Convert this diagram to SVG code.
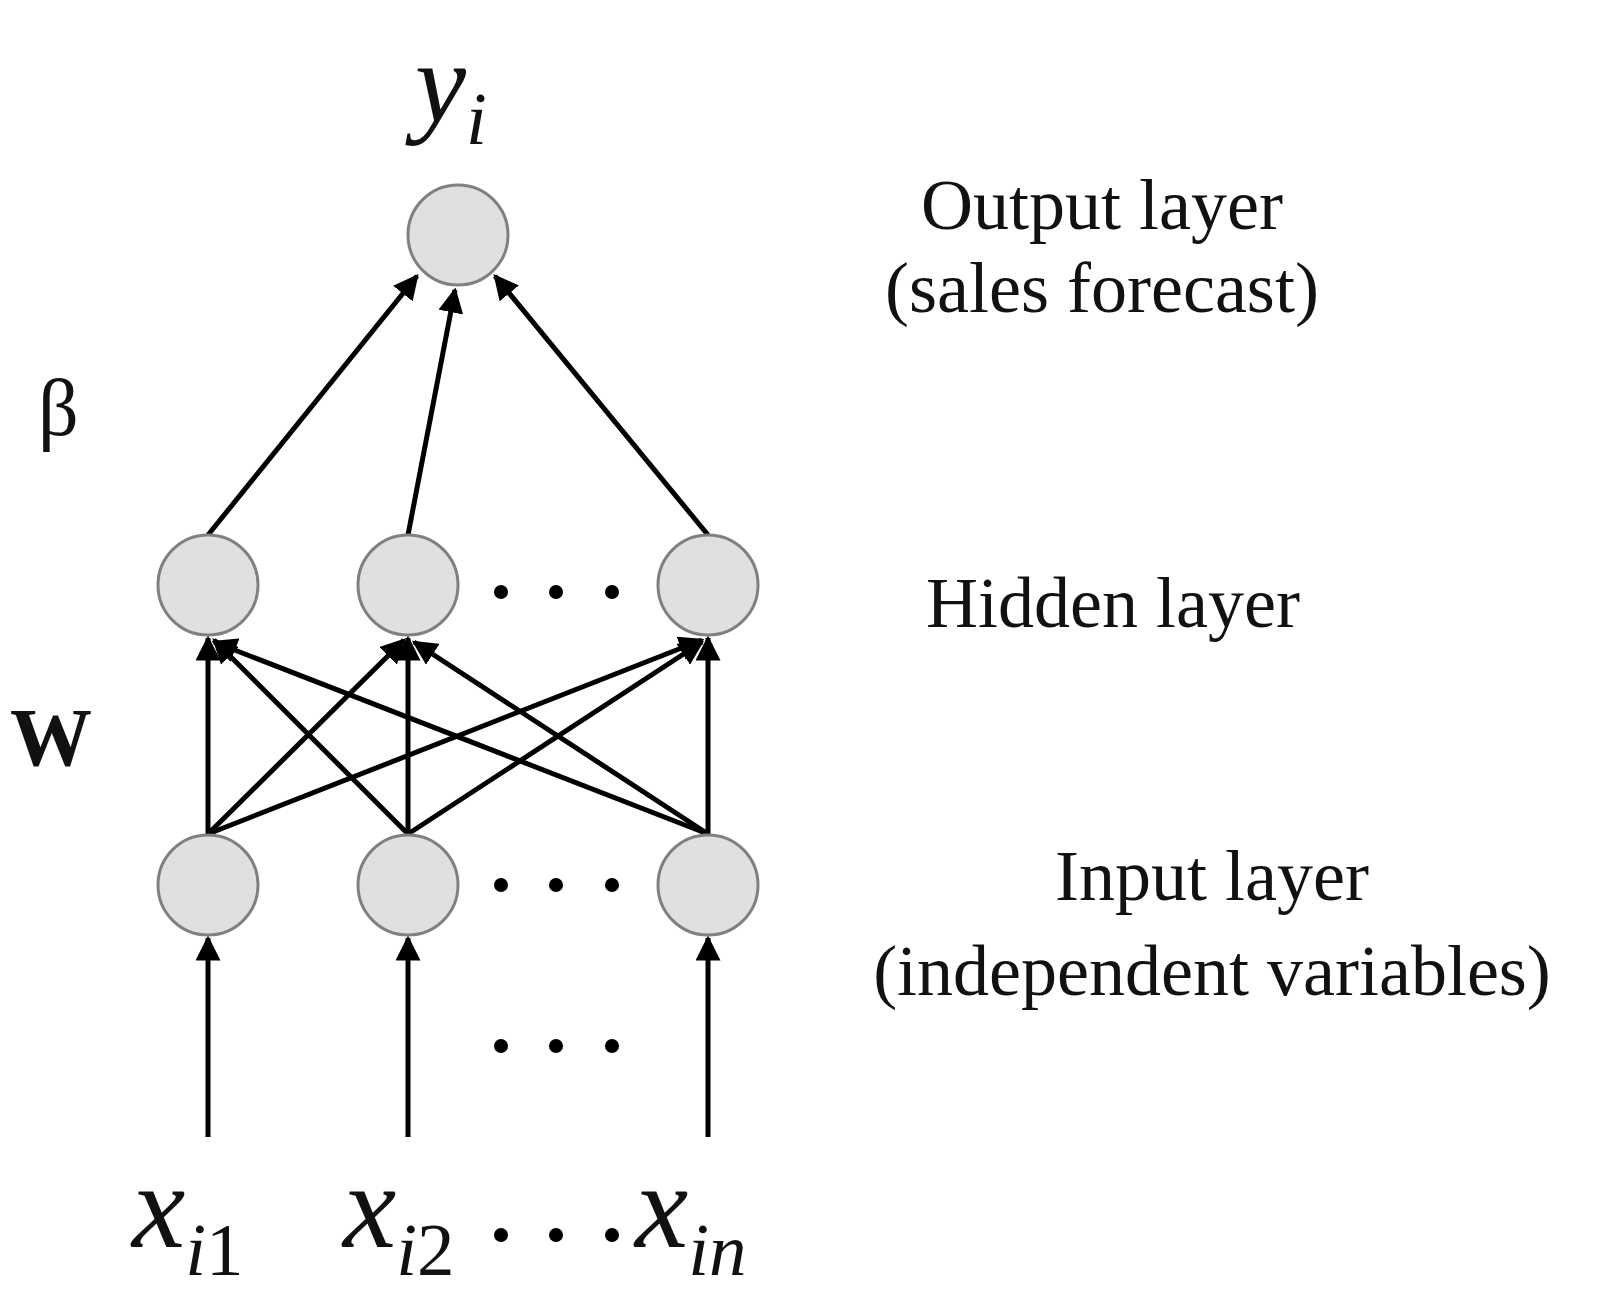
<svg xmlns="http://www.w3.org/2000/svg" width="1622" height="1299" viewBox="0 0 1622 1299">
<style>
.n{fill:#e0e0e0;stroke:#808080;stroke-width:3}
.c{stroke:#000;stroke-width:5;fill:none;marker-end:url(#a)}
.t{font-family:"Liberation Serif",serif;font-size:72px;fill:#111;text-anchor:middle}
.m{font-family:"Liberation Serif",serif;font-style:italic;fill:#111}
.d{fill:#000}
</style>
<defs><marker id="a" viewBox="0 0 10 10" refX="9" refY="5" markerWidth="5" markerHeight="5" orient="auto" markerUnits="strokeWidth"><path d="M0,0L10,5L0,10z"/></marker></defs>
<rect width="1622" height="1299" fill="#fff"/>
<g id="connectors">
<line class="c" x1="208" y1="535" x2="417" y2="276"/>
<line class="c" x1="408" y1="535" x2="455" y2="290"/>
<line class="c" x1="708" y1="535" x2="495" y2="276"/>
<line class="c" x1="208" y1="834" x2="208" y2="638"/>
<line class="c" x1="208" y1="834" x2="404" y2="640"/>
<line class="c" x1="208" y1="834" x2="702" y2="640"/>
<line class="c" x1="408" y1="834" x2="214" y2="640"/>
<line class="c" x1="408" y1="834" x2="408" y2="638"/>
<line class="c" x1="408" y1="834" x2="702" y2="642"/>
<line class="c" x1="708" y1="834" x2="214" y2="642"/>
<line class="c" x1="708" y1="834" x2="414" y2="642"/>
<line class="c" x1="708" y1="834" x2="708" y2="638"/>
<line class="c" x1="208" y1="1137" x2="208" y2="938"/>
<line class="c" x1="408" y1="1137" x2="408" y2="938"/>
<line class="c" x1="708" y1="1137" x2="708" y2="938"/>
</g>
<g id="output"><circle class="n" cx="458" cy="235" r="50"/></g>
<g id="h1"><circle class="n" cx="208" cy="585" r="50"/></g>
<g id="h2"><circle class="n" cx="408" cy="585" r="50"/></g>
<g id="h3"><circle class="n" cx="708" cy="585" r="50"/></g>
<g id="i1"><circle class="n" cx="208" cy="885" r="50"/></g>
<g id="i2"><circle class="n" cx="408" cy="885" r="50"/></g>
<g id="i3"><circle class="n" cx="708" cy="885" r="50"/></g>
<g id="dots">
<circle class="d" cx="501" cy="592" r="7"/><circle class="d" cx="556" cy="592" r="7"/><circle class="d" cx="612" cy="592" r="7"/>
<circle class="d" cx="501" cy="885" r="7"/><circle class="d" cx="556" cy="885" r="7"/><circle class="d" cx="612" cy="885" r="7"/>
<circle class="d" cx="501" cy="1046" r="7"/><circle class="d" cx="556" cy="1046" r="7"/><circle class="d" cx="612" cy="1046" r="7"/>
<circle class="d" cx="501" cy="1235" r="7"/><circle class="d" cx="556" cy="1235" r="7"/><circle class="d" cx="612" cy="1235" r="7"/>
</g>
<g id="labels">
<text class="m" x="415" y="122" font-size="115">y<tspan font-size="75" dy="22">i</tspan></text>
<text x="38" y="435" font-family="Liberation Serif,serif" font-size="80" fill="#111">β</text>
<text x="10" y="765" font-family="Liberation Serif,serif" font-size="82" font-weight="bold" fill="#111">W</text>
<text class="m" x="132" y="1247" font-size="120">x<tspan font-size="75" dy="28">i</tspan><tspan font-style="normal" font-size="75">1</tspan></text>
<text class="m" x="343" y="1247" font-size="120">x<tspan font-size="75" dy="28">i</tspan><tspan font-style="normal" font-size="75">2</tspan></text>
<text class="m" x="635" y="1247" font-size="120">x<tspan font-size="75" dy="28">in</tspan></text>
<text class="t" x="1102" y="229">Output layer</text>
<text class="t" x="1102" y="312">(sales forecast)</text>
<text class="t" x="1113" y="627">Hidden layer</text>
<text class="t" x="1212" y="900">Input layer</text>
<text class="t" x="1212" y="995">(independent variables)</text>
</g>
</svg>
